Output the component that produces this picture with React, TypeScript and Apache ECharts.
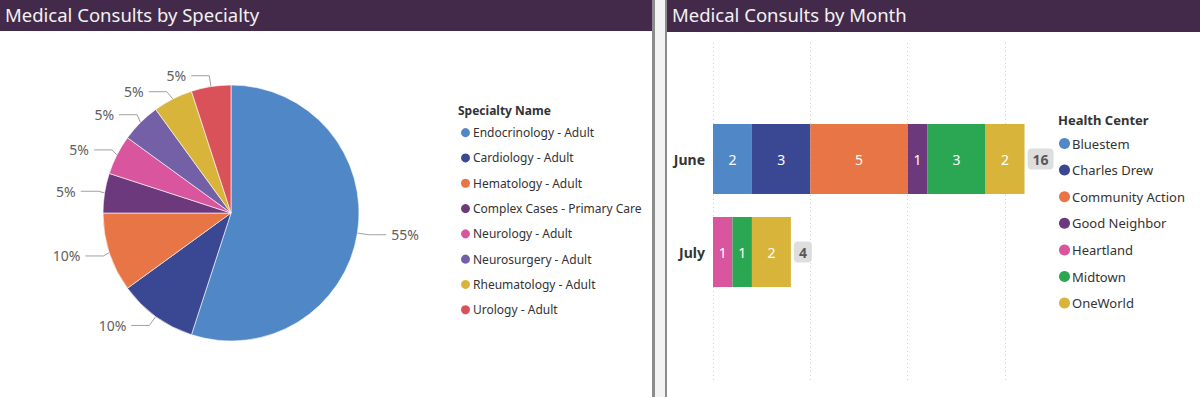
import React, { useEffect, useRef } from "react";
import * as echarts from "echarts";

// ---- Data ----
const specialtyNames = [
  "Endocrinology - Adult",
  "Cardiology - Adult",
  "Hematology - Adult",
  "Complex Cases - Primary Care",
  "Neurology - Adult",
  "Neurosurgery - Adult",
  "Rheumatology - Adult",
  "Urology - Adult",
];
const specialtyConsults = [11, 2, 2, 1, 1, 1, 1, 1];
const specialtyColors = ["#5088c7", "#3a4793", "#e87545", "#6c3a7c", "#d9559e", "#7460a6", "#d9b43a", "#d9525a"];

const months = ["June", "July"];
const healthCenters = ["Bluestem", "Charles Drew", "Community Action", "Good Neighbor", "Heartland", "Midtown", "OneWorld"];
const bluestem = [2, 0];
const charlesDrew = [3, 0];
const communityAction = [5, 0];
const goodNeighbor = [1, 0];
const heartland = [0, 1];
const midtown = [3, 1];
const oneWorld = [2, 2];
const centerValues = [bluestem, charlesDrew, communityAction, goodNeighbor, heartland, midtown, oneWorld];
const centerColors = ["#5088c7", "#3a4793", "#e87545", "#6c3a7c", "#d9559e", "#2ba753", "#d9b43a"];
const monthTotals = [16, 4];

const FONT = "Noto Sans";

export default function App() {
  const ref = useRef<HTMLDivElement>(null);
  useEffect(() => {
    if (!ref.current) return;
    const chart = echarts.init(ref.current, undefined, { renderer: "svg" });
    const barSeries: any[] = healthCenters.map((name, i) => ({
      name,
      type: "bar",
      stack: "m",
      xAxisIndex: 0,
      yAxisIndex: 0,
      barWidth: 70,
      data: centerValues[i],
      itemStyle: { color: centerColors[i] },
      label: {
        show: true,
        position: "inside",
        color: "#ffffff",
        fontFamily: FONT,
        fontSize: 14,
        formatter: (p: any) => (p.value ? String(p.value) : ""),
      },
    }));
    barSeries.push({
      name: "Total",
      type: "scatter",
      xAxisIndex: 0,
      yAxisIndex: 0,
      symbolSize: 0,
      data: months.map((m, i) => [monthTotals[i], m]),
      label: {
        show: true,
        position: "right",
        distance: 3,
        formatter: (p: any) => String(p.value[0]),
        fontFamily: FONT,
        fontSize: 14,
        fontWeight: "bold",
        color: "#333333",
        backgroundColor: "#d6d6d6",
        borderRadius: 4,
        padding: [4, 5, 3, 5],
      },
    });

    chart.setOption({
      animation: false,
      textStyle: { fontFamily: FONT },
      title: [
        {
          text: "Medical Consults by Specialty",
          left: 5,
          top: 5,
          padding: 0,
          textStyle: { color: "#f2f2f2", fontSize: 18.5, fontWeight: "normal", fontFamily: FONT },
        },
        {
          text: "Medical Consults by Month",
          left: 672,
          top: 5,
          padding: 0,
          textStyle: { color: "#f2f2f2", fontSize: 18.5, fontWeight: "normal", fontFamily: FONT },
        },
      ],
      graphic: [
        { type: "rect", shape: { x: 0, y: 0, width: 652, height: 31 }, style: { fill: "#442a4a" }, z: -10 },
        { type: "rect", shape: { x: 667, y: 0, width: 533, height: 32 }, style: { fill: "#442a4a" }, z: -10 },
        { type: "rect", shape: { x: 652, y: 0, width: 3, height: 397 }, style: { fill: "#8c8c8c" }, z: -10 },
        { type: "rect", shape: { x: 655, y: 0, width: 10, height: 397 }, style: { fill: "#f3f3f3" }, z: -10 },
        { type: "rect", shape: { x: 665, y: 0, width: 2, height: 397 }, style: { fill: "#8c8c8c" }, z: -10 },
        {
          type: "text",
          left: 458,
          top: 104,
          style: { text: "Specialty Name", fontFamily: FONT, fontSize: 12, fontWeight: "bold", fill: "#333333" },
        },
        {
          type: "text",
          left: 1058,
          top: 113,
          style: { text: "Health Center", fontFamily: FONT, fontSize: 13, fontWeight: "bold", fill: "#333333" },
        },
      ],
      legend: [
        {
          orient: "vertical",
          left: 459,
          top: 125.5,
          padding: 0,
          icon: "circle",
          itemWidth: 11,
          itemHeight: 11,
          itemGap: 11,
          data: specialtyNames,
          textStyle: { fontFamily: FONT, fontSize: 12, color: "#333333", lineHeight: 14.3, padding: [0, 0, 0, -3] },
        },
        {
          orient: "vertical",
          left: 1059,
          top: 136,
          padding: 0,
          icon: "circle",
          itemWidth: 11,
          itemHeight: 11,
          itemGap: 11.6,
          data: healthCenters,
          textStyle: { fontFamily: FONT, fontSize: 13, color: "#333333", lineHeight: 15, padding: [0, 0, 0, -3] },
        },
      ],
      grid: [
        { left: 713, top: 112.5, width: 331, height: 186 },
        { left: 713, top: 43, width: 331, height: 337 },
      ],
      xAxis: [
        {
          type: "value",
          gridIndex: 0,
          min: 0,
          max: 17,
          interval: 5,
          show: true,
          axisLabel: { show: false },
          axisLine: { show: false },
          axisTick: { show: false },
          splitLine: { show: false },
        },
        {
          type: "value",
          gridIndex: 1,
          min: 0,
          max: 17,
          interval: 5,
          axisLabel: { show: false },
          axisLine: { show: false },
          axisTick: { show: false },
          splitLine: { show: true, showMaxLine: false, lineStyle: { type: [1, 3], color: "#d0d0d0", width: 1 } },
        },
      ],
      yAxis: [
        {
          type: "category",
          gridIndex: 0,
          data: months,
          inverse: true,
          axisLine: { show: false },
          axisTick: { show: false },
          axisLabel: { margin: 8, fontFamily: FONT, fontSize: 14, fontWeight: "bold", color: "#333333" },
        },
        {
          type: "value",
          gridIndex: 1,
          min: 0,
          max: 1,
          show: false,
        },
      ],
      series: [
        {
          name: "Specialty",
          type: "pie",
          center: [231, 213],
          radius: 128,
          startAngle: 90,
          clockwise: true,
          data: specialtyNames.map((n, i) => ({ name: n, value: specialtyConsults[i], itemStyle: { color: specialtyColors[i] } })),
          itemStyle: { borderColor: "#ffffff", borderWidth: 0.6 },
          label: {
            show: true,
            formatter: "{d}%",
            fontFamily: FONT,
            fontSize: 14,
            color: "#605e5c",
          },
          labelLine: { show: true, length: 11, length2: 18, lineStyle: { color: "#a0a0a0", width: 1 } },
        },
        ...barSeries,
      ],
    });
    return () => chart.dispose();
  }, []);
  return <div ref={ref} style={{ position: "fixed", left: 0, top: 0, width: 1200, height: 397, background: "#ffffff" }} />;
}
